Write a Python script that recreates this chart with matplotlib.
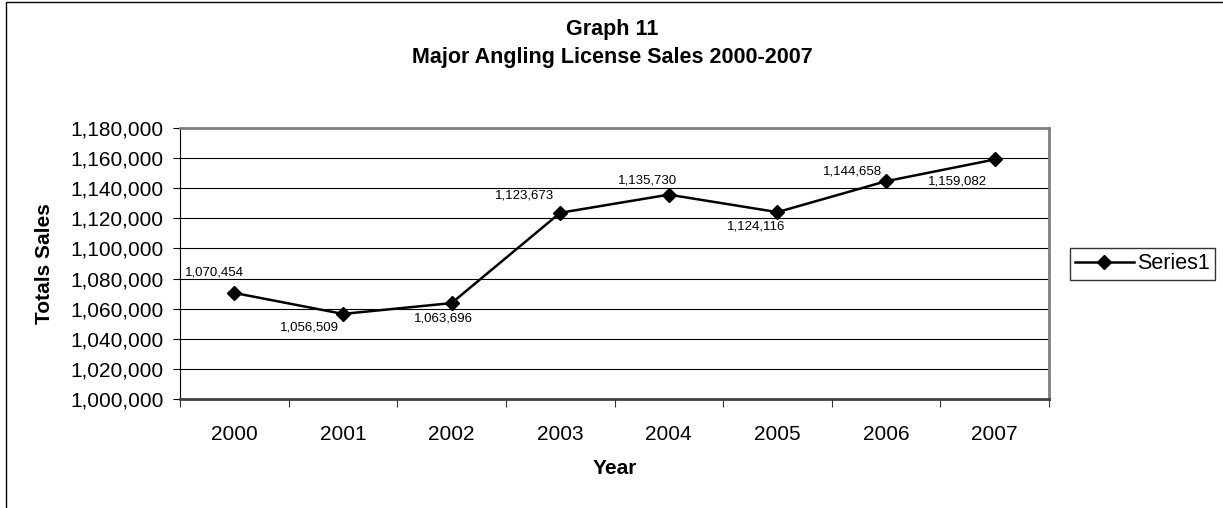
import matplotlib
matplotlib.use("Agg")
import matplotlib.pyplot as plt
from matplotlib.patches import Rectangle
from matplotlib.ticker import FuncFormatter, MultipleLocator, FixedLocator

plt.rcParams['font.family'] = ['Liberation Sans', 'DejaVu Sans']

years = ['2000', '2001', '2002', '2003', '2004', '2005', '2006', '2007']
sales = [1070454, 1056509, 1063696, 1123673, 1135730, 1124116, 1144658, 1159082]
series_name = 'Series1'
# label offsets (pixels) relative to each point
label_offsets = [(-20, 20), (-33, -14), (-8, -15), (-36, 17),
                 (-21, 14), (-21, -14), (-34, 10), (-37, -22)]

W, H = 1223, 508
fig = plt.figure(figsize=(W / 100, H / 100), dpi=100)
ax = fig.add_axes([180 / W, 1 - 399 / H, (1049 - 180) / W, (399 - 128) / H])

x = list(range(len(years)))
line, = ax.plot(x, sales, color='black', lw=1.8, marker='D', ms=7.5,
                mfc='black', mec='black', zorder=5, clip_on=False, label=series_name)

for xi, v, (dx, dy) in zip(x, sales, label_offsets):
    ax.annotate(f"{v:,}", (xi, v), xytext=(dx, dy), textcoords='offset pixels',
                ha='center', va='center', fontsize=9.5, zorder=6)

ax.set_xlim(-0.5, len(years) - 0.5)
ax.set_ylim(1000000, 1180000)
ax.yaxis.set_major_locator(MultipleLocator(20000))
ax.yaxis.set_major_formatter(FuncFormatter(lambda v, p: f"{int(v):,}"))
ax.grid(axis='y', color='black', lw=0.8)
ax.set_axisbelow(True)

ax.set_xticks(x)
ax.set_xticklabels(years)
ax.xaxis.set_minor_locator(FixedLocator([i - 0.5 for i in range(len(years) + 1)]))
ax.tick_params(axis='x', which='major', length=0, pad=19, labelsize=15)
ax.tick_params(axis='x', which='minor', length=6, width=0.8, direction='out', color='#333333')
ax.tick_params(axis='y', length=5, width=0.8, direction='out', pad=7, labelsize=15)

for side in ('top', 'right'):
    ax.spines[side].set_color('#808080')
    ax.spines[side].set_linewidth(2)
ax.spines['bottom'].set_color('#404040')
ax.spines['bottom'].set_linewidth(2)
ax.spines['left'].set_color('black')
ax.spines['left'].set_linewidth(0.8)

fig.text(612 / W, 1 - 30 / H, 'Graph 11', ha='center', va='center',
         fontsize=15.5, fontweight='bold')
fig.text(612 / W, 1 - 57 / H, 'Major Angling License Sales 2000-2007', ha='center',
         va='center', fontsize=15.5, fontweight='bold')
fig.text(614.5 / W, 1 - 468 / H, 'Year', ha='center', va='center',
         fontsize=15, fontweight='bold')
fig.text(45 / W, 1 - 263.5 / H, 'Totals Sales', ha='center', va='center',
         rotation=90, fontsize=15, fontweight='bold')

leg = fig.legend(handles=[line], loc='center left',
                 bbox_to_anchor=(1070 / W, 1 - 264 / H), bbox_transform=fig.transFigure,
                 fontsize=15.5, frameon=True, fancybox=False, borderpad=0.25,
                 handlelength=2.7, handletextpad=0.15, borderaxespad=0)
leg.get_frame().set_edgecolor('black')
leg.get_frame().set_linewidth(1)

# chart frame
fig.patches.append(Rectangle((6 / W, -0.1), 1.2, (1 - 2 / H) + 0.1, transform=fig.transFigure,
                             fill=False, edgecolor='black', lw=1))

fig.savefig('out.png', dpi=100)
